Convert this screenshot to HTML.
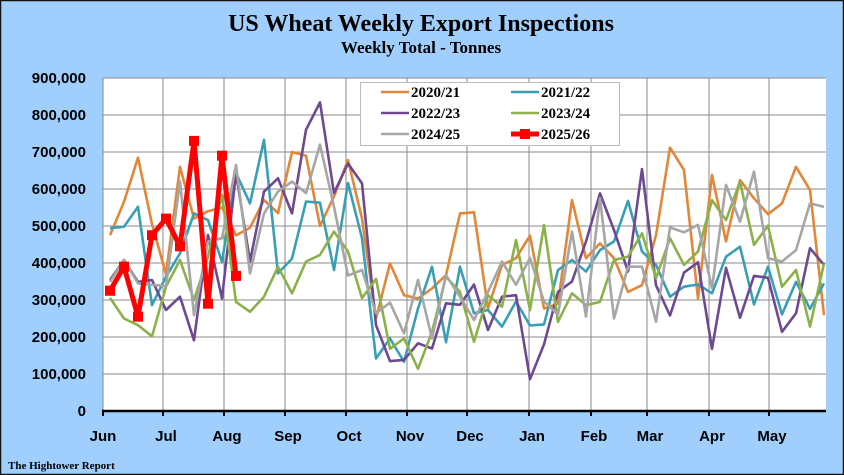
<!DOCTYPE html>
<html><head><meta charset="utf-8"><style>
html,body{margin:0;padding:0;}
body{width:844px;height:475px;overflow:hidden;background:#a0cffe;}
</style></head><body>
<svg id="s" width="844" height="475" xmlns="http://www.w3.org/2000/svg" style="display:block">
<rect x="0.5" y="0.5" width="843" height="474" fill="#a0cffe" stroke="#111" stroke-width="1.5"/>
<text x="421" y="31" text-anchor="middle" font-family="Liberation Serif" font-weight="bold" font-size="24" fill="#000">US Wheat Weekly Export Inspections</text>
<text x="421" y="53" text-anchor="middle" font-family="Liberation Serif" font-weight="bold" font-size="17" fill="#000">Weekly Total - Tonnes</text>
<rect x="103" y="78" width="723" height="333" fill="#fff"/>
<g id="grid"></g>
<g id="series"></g>
<g id="legend"></g>
<text x="8" y="469" font-family="Liberation Serif" font-weight="bold" font-size="11" fill="#000">The Hightower Report</text>
</svg>
<script>
var NS="http://www.w3.org/2000/svg";
function el(p,t,a,txt){var e=document.createElementNS(NS,t);for(var k in a)e.setAttribute(k,a[k]);if(txt!=null)e.textContent=txt;p.appendChild(e);return e;}
var g=document.getElementById('grid');
function Y(v){return 411-v*333/900;}
for(var i=1;i<=9;i++){var y=Y(i*100);el(g,'line',{x1:103,x2:826,y1:y,y2:y,stroke:'#8a8a8a','stroke-width':1});}
for(var i=0;i<=9;i++){var y=Y(i*100);el(g,'text',{x:86,y:y+5,'text-anchor':'end','font-family':'Liberation Sans','font-weight':'bold','font-size':15},i==0?'0':(i*100)+',000');}
var mx=[103,163,224,285,346,407,467,529,591,647,709,769];
var mn=['Jun','Jul','Aug','Sep','Oct','Nov','Dec','Jan','Feb','Mar','Apr','May'];
for(var i=0;i<mx.length;i++){
 if(i>0)el(g,'line',{x1:mx[i],x2:mx[i],y1:78,y2:411,stroke:'#8a8a8a','stroke-width':1});
 el(g,'line',{x1:mx[i],x2:mx[i],y1:411,y2:416,stroke:'#000','stroke-width':2});
 el(g,'text',{x:mx[i]+(i==0?0:3),y:441,'text-anchor':'middle','font-family':'Liberation Sans','font-weight':'bold','font-size':15},mn[i]);
}
el(g,'line',{x1:103,x2:826,y1:78,y2:78,stroke:'#8a8a8a','stroke-width':1});
el(g,'line',{x1:103,x2:103,y1:78,y2:411,stroke:'#8a8a8a','stroke-width':1});
el(g,'line',{x1:102,x2:826,y1:411,y2:411,stroke:'#000','stroke-width':2.5});
var D={
o:[475,565,685,505,370,660,520,540,550,475,495,570,535,700,690,500,580,678,520,250,399,313,304,331,367,534,537,277,395,413,474,277,290,570,413,453,413,322,340,475,712,651,304,638,458,624,575,532,561,660,597,259],
t:[494,498,552,286,363,426,534,516,403,643,561,733,372,412,566,563,381,616,467,142,196,133,277,390,186,390,264,273,228,296,231,234,381,408,377,435,458,568,431,395,309,336,342,318,417,444,288,390,261,349,276,345],
p:[354,408,349,354,273,309,191,476,304,643,404,593,629,534,760,834,589,669,615,232,135,138,183,169,291,287,342,219,309,313,86,180,322,350,458,588,489,377,654,340,258,374,402,168,387,252,365,360,214,264,440,395],
gr:[306,250,232,202,336,408,300,417,584,295,268,309,390,318,404,422,485,431,305,357,168,196,114,214,363,322,187,313,282,462,273,503,241,318,286,295,408,417,480,359,467,395,431,570,516,620,449,501,336,381,228,399],
gy:[349,409,345,341,338,620,259,458,467,665,372,534,593,620,589,720,552,366,381,264,293,210,354,196,367,309,246,322,404,341,414,296,261,485,255,575,250,390,390,241,496,483,503,332,611,512,647,413,404,435,561,552],
r:[325,390,255,475,520,445,730,290,690,365]};
var C={o:'#e0873a',t:'#3a9fb5',p:'#6d4a8f',gr:'#8cb04a',gy:'#a6a6a6',r:'#ff0000'};
var S=document.getElementById('series');
['o','t','p','gr','gy'].forEach(function(k){
 var pts=D[k].map(function(v,i){return (110+14*i)+','+Y(v).toFixed(1)}).join(' ');
 el(S,'polyline',{points:pts,fill:'none',stroke:C[k],'stroke-width':2.6,'stroke-linejoin':'round'});
});
var pts=D.r.map(function(v,i){return (110+14*i)+','+Y(v).toFixed(1)}).join(' ');
el(S,'polyline',{points:pts,fill:'none',stroke:'#f00','stroke-width':5,'stroke-linejoin':'round'});
D.r.forEach(function(v,i){el(S,'rect',{x:110+14*i-5,y:Y(v)-5,width:10,height:10,fill:'#f00'});});
var L=document.getElementById('legend');
el(L,'rect',{x:360.5,y:82.5,width:259,height:63,fill:'#fff',stroke:'#bbb','stroke-width':1});
var items=[['o','2020/21',0,0],['t','2021/22',1,0],['p','2022/23',0,1],['gr','2023/24',1,1],['gy','2024/25',0,2],['r','2025/26',1,2]];
items.forEach(function(it){
 var x0=it[2]?511:381, y=92+it[3]*21;
 el(L,'line',{x1:x0,x2:x0+28,y1:y,y2:y,stroke:C[it[0]],'stroke-width':it[0]=='r'?5:2.6});
 if(it[0]=='r')el(L,'rect',{x:x0+9,y:y-5,width:10,height:10,fill:'#f00'});
 el(L,'text',{x:x0+30,y:y+5,'font-family':'Liberation Serif','font-weight':'bold','font-size':15},it[1]);
});
</script>
</body></html>
